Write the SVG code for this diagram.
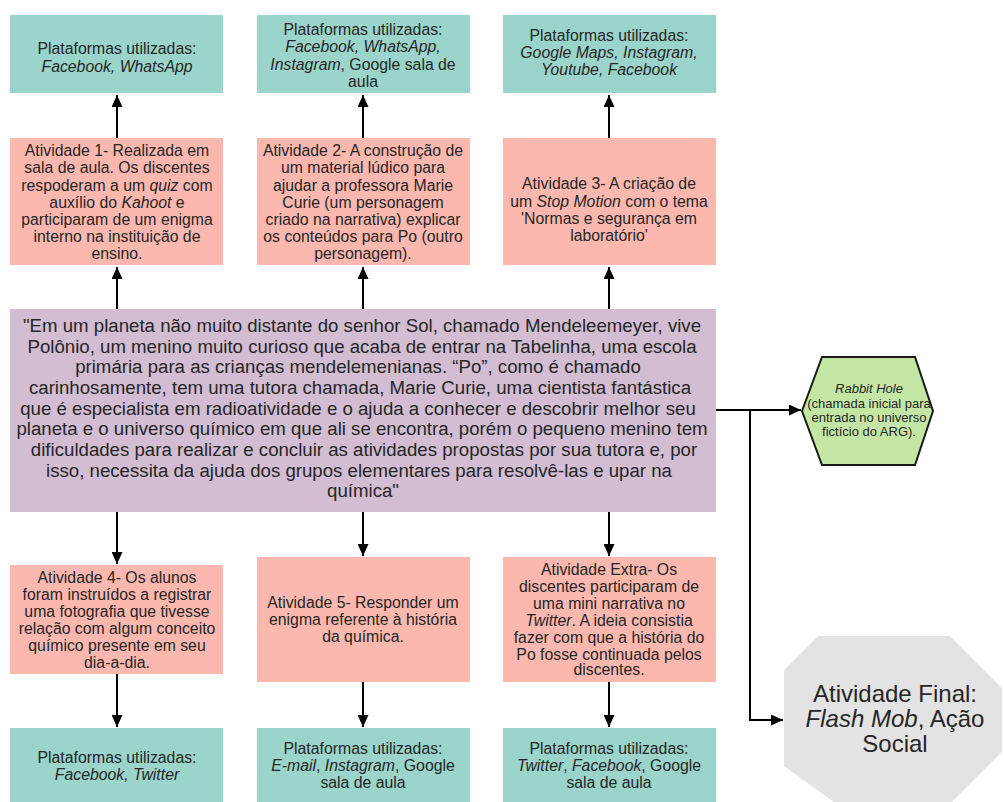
<svg xmlns="http://www.w3.org/2000/svg" width="1004" height="802" viewBox="0 0 1004 802">
<style>
text{font-family:"Liberation Sans",Arial,sans-serif;fill:#262626;text-anchor:middle;dominant-baseline:central}
.teal{fill:#9ad4ca}
.act{fill:#fcb8ae}
.t{font-size:15.8px}
.c{font-size:18.65px}
.h{font-size:13px}
.o{font-size:24px}
.i{font-style:italic}
.conn path{fill:none;stroke:#000;stroke-width:2}
</style>
<defs>
<marker id="arr" markerWidth="12" markerHeight="11" refX="12" refY="5.5" orient="auto" markerUnits="userSpaceOnUse"><path d="M0,0 L12,5.5 L0,11 z" fill="#000"/></marker>
</defs>
<rect width="1004" height="802" fill="#fff"/>

<g id="plat1"><rect class="teal" x="10" y="15" width="213" height="78"/>
<text class="t"><tspan x="117" y="48">Plataformas utilizadas:</tspan><tspan x="117" y="66" class="i">Facebook, WhatsApp</tspan></text></g>
<g id="plat2"><rect class="teal" x="257" y="15" width="213" height="78"/>
<text class="t"><tspan x="363" y="29">Plataformas utilizadas:</tspan><tspan x="363" y="46" class="i">Facebook, WhatsApp,</tspan><tspan x="363" y="63.5"><tspan class="i">Instagram</tspan>, Google sala de</tspan><tspan x="363" y="80.5">aula</tspan></text></g>
<g id="plat3"><rect class="teal" x="503" y="15" width="213" height="78"/>
<text class="t"><tspan x="609" y="35">Plataformas utilizadas:</tspan><tspan x="609" y="52" class="i">Google Maps, Instagram,</tspan><tspan x="609" y="69" class="i">Youtube, Facebook</tspan></text></g>

<g id="atv1"><rect class="act" x="10" y="138" width="213" height="127"/>
<text class="t"><tspan x="117" y="150">Atividade 1- Realizada em</tspan><tspan x="117" y="167.3">sala de aula. Os discentes</tspan><tspan x="117" y="184.5">respoderam a um <tspan class="i">quiz</tspan> com</tspan><tspan x="117" y="201.7">auxílio do <tspan class="i">Kahoot</tspan> e</tspan><tspan x="117" y="219">participaram de um enigma</tspan><tspan x="117" y="236.2">interno na instituição de</tspan><tspan x="117" y="253.4">ensino.</tspan></text></g>
<g id="atv2"><rect class="act" x="257" y="138" width="213" height="127"/>
<text class="t"><tspan x="363" y="150">Atividade 2- A construção de</tspan><tspan x="363" y="167.3">um material lúdico para</tspan><tspan x="363" y="184.5">ajudar a professora Marie</tspan><tspan x="363" y="201.7">Curie (um personagem</tspan><tspan x="363" y="219">criado na narrativa) explicar</tspan><tspan x="363" y="236.2">os conteúdos para Po (outro</tspan><tspan x="363" y="253.4">personagem).</tspan></text></g>
<g id="atv3"><rect class="act" x="503" y="138" width="213" height="127"/>
<text class="t"><tspan x="609" y="183.3">Atividade 3-  A criação de</tspan><tspan x="609" y="200.6">um <tspan class="i">Stop Motion</tspan> com o tema</tspan><tspan x="609" y="217.5">'Normas e segurança em</tspan><tspan x="609" y="234.5">laboratório'</tspan></text></g>

<g id="narrativa"><rect x="10" y="309" width="706" height="203" fill="#d2bdd3"/>
<text class="c"><tspan x="362" y="325">"Em um planeta não muito distante do senhor Sol, chamado Mendeleemeyer, vive</tspan><tspan x="362" y="345.7">Polônio, um menino muito curioso que acaba de entrar na Tabelinha, uma escola</tspan><tspan x="358" y="366.3">primária para as crianças mendelemenianas. “Po”, como é chamado</tspan><tspan x="360" y="387">carinhosamente, tem uma tutora chamada, Marie Curie, uma cientista fantástica</tspan><tspan x="358" y="407.7">que é especialista em radioatividade e o ajuda a conhecer e descobrir melhor seu</tspan><tspan x="362" y="428.3">planeta e o universo químico em que ali se encontra, porém o pequeno menino tem</tspan><tspan x="364" y="449">dificuldades para realizar e concluir as atividades propostas por sua tutora e, por</tspan><tspan x="359" y="469.7">isso, necessita da ajuda dos grupos elementares para resolvê-las e upar na</tspan><tspan x="363" y="490.3">química"</tspan></text></g>

<g id="rabbit"><polygon points="802,411 822,357 915,357 933,411 915,465 822,465" fill="#c4e6a5" stroke="#1a1a1a" stroke-width="2"/>
<text class="h"><tspan x="869" y="388" class="i">Rabbit Hole</tspan><tspan x="869" y="402.5">(chamada inicial para</tspan><tspan x="869" y="417">entrada no universo</tspan><tspan x="869" y="431">fictício do ARG).</tspan></text></g>

<g id="atv4"><rect class="act" x="10" y="565" width="213" height="109"/>
<text class="t"><tspan x="117" y="576.7">Atividade 4- Os alunos</tspan><tspan x="117" y="593.7">foram instruídos a registrar</tspan><tspan x="117" y="610.7">uma fotografia que tivesse</tspan><tspan x="117" y="627.7">relação com algum conceito</tspan><tspan x="117" y="644.7">químico presente em seu</tspan><tspan x="117" y="661.7">dia-a-dia.</tspan></text></g>
<g id="atv5"><rect class="act" x="257" y="557" width="213" height="125"/>
<text class="t"><tspan x="363" y="601.7">Atividade 5- Responder um</tspan><tspan x="363" y="619">enigma referente à história</tspan><tspan x="363" y="636">da química.</tspan></text></g>
<g id="atvextra"><rect class="act" x="503" y="557" width="213" height="125"/>
<text class="t"><tspan x="609" y="569.3">Atividade Extra- Os</tspan><tspan x="609" y="586.2">discentes participaram de</tspan><tspan x="609" y="603">uma mini narrativa no</tspan><tspan x="609" y="620"><tspan class="i">Twitter</tspan>. A ideia consistia</tspan><tspan x="609" y="636.8">fazer com que a história do</tspan><tspan x="609" y="653.5">Po fosse continuada pelos</tspan><tspan x="609" y="668.5">discentes.</tspan></text></g>

<g id="plat4"><rect class="teal" x="10" y="728" width="213" height="78"/>
<text class="t"><tspan x="117" y="757">Plataformas utilizadas:</tspan><tspan x="117" y="774" class="i">Facebook, Twitter</tspan></text></g>
<g id="plat5"><rect class="teal" x="257" y="728" width="213" height="78"/>
<text class="t"><tspan x="363" y="748">Plataformas utilizadas:</tspan><tspan x="363" y="765"><tspan class="i">E-mail</tspan>, <tspan class="i">Instagram</tspan>, Google</tspan><tspan x="363" y="782">sala de aula</tspan></text></g>
<g id="plat6"><rect class="teal" x="503" y="728" width="213" height="78"/>
<text class="t"><tspan x="609" y="748">Plataformas utilizadas:</tspan><tspan x="609" y="765"><tspan class="i">Twitter</tspan>, <tspan class="i">Facebook</tspan>, Google</tspan><tspan x="609" y="782">sala de aula</tspan></text></g>

<g id="final"><polygon points="784,670 818,636 950,636 1002,688 1002,752 952,802 834,802 784,766" fill="#e3e3e3"/>
<text class="o"><tspan x="895" y="693">Atividade Final:</tspan><tspan x="895" y="718"><tspan class="i">Flash Mob</tspan>, Ação</tspan><tspan x="895" y="743">Social</tspan></text></g>

<g id="connectors" class="conn">
<path d="M117,138 V95" marker-end="url(#arr)"/>
<path d="M363,138 V95" marker-end="url(#arr)"/>
<path d="M609,138 V95" marker-end="url(#arr)"/>
<path d="M117,309 V267" marker-end="url(#arr)"/>
<path d="M363,309 V267" marker-end="url(#arr)"/>
<path d="M609,309 V267" marker-end="url(#arr)"/>
<path d="M117,512 V564" marker-end="url(#arr)"/>
<path d="M363,512 V556" marker-end="url(#arr)"/>
<path d="M609,512 V556" marker-end="url(#arr)"/>
<path d="M117,674 V727" marker-end="url(#arr)"/>
<path d="M363,682 V727" marker-end="url(#arr)"/>
<path d="M609,682 V727" marker-end="url(#arr)"/>
<path d="M716,410 H801" marker-end="url(#arr)"/>
<path d="M750,410 V720 H783" marker-end="url(#arr)"/>
</g>
</svg>
